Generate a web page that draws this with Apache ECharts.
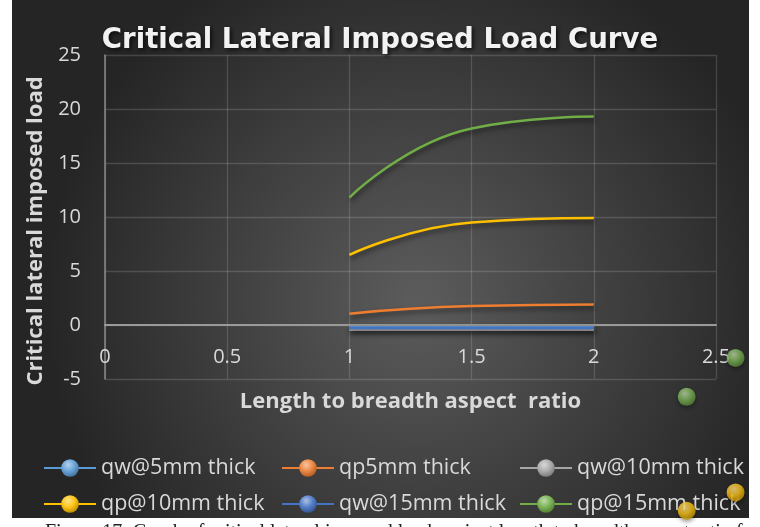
<!DOCTYPE html>
<html>
<head>
<meta charset="utf-8">
<script src="https://cdn.jsdelivr.net/npm/echarts@6/dist/echarts.min.js"></script>
<style>
html,body{margin:0;padding:0;background:#fff;}
#chart{width:760px;height:527px;}
</style>
</head>
<body>
<div id="chart"></div>
<script>
// ---- data ----
const xValues = [1, 1.5, 2];
const seriesNames = ['qw@5mm thick', 'qp5mm thick', 'qw@10mm thick', 'qp@10mm thick', 'qw@15mm thick', 'qp@15mm thick'];
const qw5 = [-0.2, -0.2, -0.2];
const qp5 = [1.05, 1.75, 1.9];
const qw10 = [-0.45, -0.45, -0.45];
const qp10 = [6.5, 9.5, 9.9];
const qw15 = [-0.28, -0.28, -0.28];
const qp15 = [11.8, 18.2, 19.3];
const strayGreen = [[2.58, -3.05], [2.38, -6.65]];
const strayYellow = [[2.58, -15.5], [2.38, -17.2]];
const xTicks = [0, 0.5, 1, 1.5, 2, 2.5];
const yTicks = [-5, 0, 5, 10, 15, 20, 25];

const colors = ['#5b9bd5', '#ed7d31', '#a5a5a5', '#ffc000', '#4472c4', '#70ad47'];
const allValues = [qw5, qp5, qw10, qp10, qw15, qp15];

function lighten(hex, f) {
  const n = parseInt(hex.slice(1), 16);
  let r = (n >> 16) & 255, g = (n >> 8) & 255, b = n & 255;
  r = Math.round(r + (255 - r) * f); g = Math.round(g + (255 - g) * f); b = Math.round(b + (255 - b) * f);
  return 'rgb(' + r + ',' + g + ',' + b + ')';
}
function darken(hex, f) {
  const n = parseInt(hex.slice(1), 16);
  let r = (n >> 16) & 255, g = (n >> 8) & 255, b = n & 255;
  return 'rgb(' + Math.round(r * f) + ',' + Math.round(g * f) + ',' + Math.round(b * f) + ')';
}
function sphere(hex) {
  return {
    type: 'radial', x: 0.4, y: 0.32, r: 0.72,
    colorStops: [
      { offset: 0, color: lighten(hex, 0.55) },
      { offset: 0.5, color: lighten(hex, 0.1) },
      { offset: 1, color: darken(hex, 0.72) }
    ]
  };
}

const font = '"Open Sans", sans-serif';
const labelColor = '#d9d9d9';

const series = seriesNames.map((name, i) => ({
  name: name,
  type: 'line',
  smooth: 0.5,
  data: xValues.map((x, j) => [x, allValues[i][j]]),
  symbol: 'circle',
  symbolSize: 18,
  showSymbol: false,
  lineStyle: {
    color: colors[i], width: 2.5,
    shadowColor: 'rgba(0,0,0,0.55)', shadowBlur: 5, shadowOffsetY: 3, shadowOffsetX: 1
  },
  itemStyle: { color: sphere(colors[i]) },
  emphasis: { disabled: true },
  z: 3 + i
}));

series.push({
  name: 'stray-green', type: 'scatter', data: strayGreen, symbolSize: 18, clip: false,
  itemStyle: { color: sphere('#70ad47'), shadowColor: 'rgba(0,0,0,0.5)', shadowBlur: 4, shadowOffsetY: 2 },
  z: 20
});
series.push({
  name: 'stray-yellow', type: 'scatter', data: strayYellow, symbolSize: 18, clip: false,
  itemStyle: { color: sphere('#ffc000'), shadowColor: 'rgba(0,0,0,0.5)', shadowBlur: 4, shadowOffsetY: 2 },
  z: 20
});

const chart = echarts.init(document.getElementById('chart'), null, { renderer: 'canvas' });
chart.setOption({
  animation: false,
  backgroundColor: '#ffffff',
  graphic: [
    {
      type: 'rect', z: -10, silent: true,
      shape: { x: 12, y: 0, width: 737, height: 518 },
      style: {
        fill: {
          type: 'radial', x: 0.55, y: 0.58, r: 0.72,
          colorStops: [
            { offset: 0, color: '#5c5c5c' },
            { offset: 1, color: '#252525' }
          ]
        }
      }
    },
    {
      type: 'text', z: -5, silent: true, left: 45, top: 523,
      style: {
        text: 'Figure 17: Graph of critical lateral imposed load against length to breadth aspect ratio for',
        font: '20px "Liberation Serif", serif', fill: '#222'
      }
    }
  ],
  title: {
    text: 'Critical Lateral Imposed Load Curve',
    left: 'center', top: 22,
    textStyle: {
      color: '#f2f2f2', fontFamily: '"DejaVu Sans", sans-serif', fontWeight: 'bold', fontSize: 27.6,
      textShadowColor: 'rgba(0,0,0,0.7)', textShadowBlur: 4, textShadowOffsetX: 2, textShadowOffsetY: 2
    }
  },
  legend: {
    data: seriesNames,
    left: 38, top: 450, width: 730,
    itemWidth: 52, itemHeight: 22, itemGap: 10,
    textStyle: { color: labelColor, fontFamily: font, fontSize: 21.5, width: 170, lineHeight: 26 },
    inactiveColor: '#777'
  },
  grid: { left: 105, right: 44, top: 55, bottom: 148 },
  xAxis: {
    type: 'value', min: xTicks[0], max: xTicks[xTicks.length - 1], interval: 0.5,
    name: 'Length to breadth aspect  ratio', nameLocation: 'middle', nameGap: 12,
    nameTextStyle: { color: labelColor, fontFamily: font, fontWeight: 'bold', fontSize: 22 },
    axisLine: { onZero: true, lineStyle: { color: '#9a9a9a', width: 2 } },
    axisTick: { show: false },
    axisLabel: { color: labelColor, fontFamily: font, fontSize: 20, margin: -32 },
    splitLine: { show: true, lineStyle: { color: 'rgba(255,255,255,0.15)', width: 1.3 } }
  },
  yAxis: {
    type: 'value', min: yTicks[0], max: yTicks[yTicks.length - 1], interval: 5,
    name: 'Critical lateral imposed load', nameLocation: 'middle', nameGap: 43,
    nameTextStyle: { color: labelColor, fontFamily: font, fontWeight: 'bold', fontSize: 22, padding: [0, 28, 0, 0] },
    axisLine: { show: true, onZero: false, lineStyle: { color: '#8a8a8a', width: 1.5 } },
    axisTick: { show: false },
    axisLabel: { color: labelColor, fontFamily: font, fontSize: 20, margin: 24 },
    splitLine: { show: true, lineStyle: { color: 'rgba(255,255,255,0.15)', width: 1.3 } }
  },
  series: series
});
</script>
</body>
</html>
